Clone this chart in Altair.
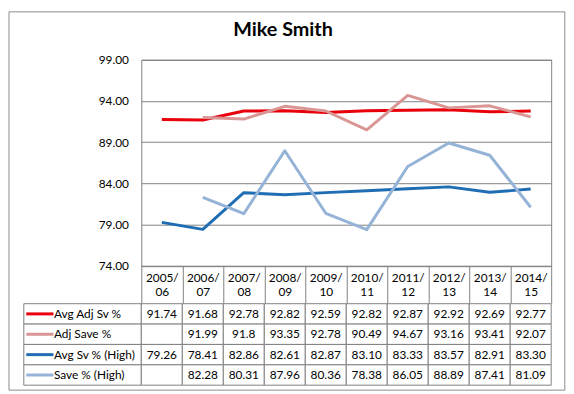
import altair as alt
import pandas as pd

# ---------------- data ----------------
seasons = ["2005/06", "2006/07", "2007/08", "2008/09", "2009/10",
           "2010/11", "2011/12", "2012/13", "2013/14", "2014/15"]
series_names = ["Avg Adj Sv %", "Adj Save %", "Avg Sv % (High)", "Save % (High)"]
avg_adj_sv = [91.74, 91.68, 92.78, 92.82, 92.59, 92.82, 92.87, 92.92, 92.69, 92.77]
adj_save = [None, 91.99, 91.8, 93.35, 92.78, 90.49, 94.67, 93.16, 93.41, 92.07]
avg_sv_high = [79.26, 78.41, 82.86, 82.61, 82.87, 83.10, 83.33, 83.57, 82.91, 83.30]
save_high = [None, 82.28, 80.31, 87.96, 80.36, 78.38, 86.05, 88.89, 87.41, 81.09]
y_ticks = [74, 79, 84, 89, 94, 99]
chart_title = "Mike Smith"
series_values = [avg_adj_sv, adj_save, avg_sv_high, save_high]
series_formats = [".2f", "g", ".2f", "g"]
colors = ["#E8000B", "#D99694", "#1F6DB3", "#95B3D7"]
GRID = "#808080"
FONT = "Lato"

rows = []
for name, vals, fmt in zip(series_names, series_values, series_formats):
    for s, v in zip(seasons, vals):
        rows.append({"season": s, "series": name,
                     "value": v,
                     "text": "" if v is None else format(v, fmt)})
df = pd.DataFrame(rows)
legend_df = pd.DataFrame({"series": series_names, "color": colors})
frame_df = pd.DataFrame({"title": [chart_title]})

band = alt.Scale(type="band", domain=seasons, paddingInner=0, paddingOuter=0)
row_band = alt.Scale(type="band", domain=series_names, paddingInner=0, paddingOuter=0)
color_scale = alt.Scale(domain=series_names, range=colors)

x_axis = alt.Axis(
    title=None, domain=False, grid=False,
    labelExpr="[slice(datum.label, 0, 5), slice(datum.label, 5)]",
    labelFont=FONT, labelFontSize=12, labelColor="black", labelLineHeight=14,
    labelAngle=0, labelOverlap=False, labelBound=False,
    tickBand="extent", tickSize=38, tickColor=GRID, tickWidth=1,
    labelPadding=-31,
)
y_axis = alt.Axis(
    title=None, values=y_ticks, format=".2f", ticks=False, domain=False,
    gridColor=GRID, gridOpacity=1, labelPadding=13,
    labelFont=FONT, labelFontSize=12, labelColor="black",
)

line_x = alt.X("season:N", sort=seasons, scale=band, bandPosition=0.5, axis=x_axis)
line_y = alt.Y("value:Q", scale=alt.Scale(domain=[74, 99], nice=False, zero=False), axis=y_axis)

layers = []
for name in series_names:
    layers.append(
        alt.Chart(df).transform_filter(
            (alt.datum.series == name) & alt.expr.isValid(alt.datum.value)
        ).mark_line(strokeWidth=3, strokeJoin="round").encode(
            x=line_x, y=line_y,
            color=alt.Color("series:N", scale=color_scale, legend=None),
        )
    )

# chart-area border and title (decorations)
frame = alt.Chart(frame_df).mark_rect(fill="transparent", stroke="#8A8A8A", strokeWidth=1).encode(
    x=alt.value(-134), x2=alt.value(428.8), y=alt.value(-48.5), y2=alt.value(334.5)
)
title = alt.Chart(frame_df).mark_text(font=FONT, fontSize=20, fontWeight="bold", color="black",
                                      align="center", baseline="alphabetic").encode(
    x=alt.value(143.5), y=alt.value(-23.7), text="title:N"
)

line_chart = alt.layer(frame, title, *layers).properties(
    width=415, height=208.5,
    view=alt.ViewBackground(stroke=GRID),
)

# ---------------- data table ----------------
tx = alt.X("season:N", sort=seasons, scale=band, axis=None)
ty = alt.Y("series:N", sort=series_names, scale=row_band, axis=None)
tx_c = alt.X("season:N", sort=seasons, scale=band, axis=None, bandPosition=0.5)
ty_c = alt.Y("series:N", sort=series_names, scale=row_band, axis=None, bandPosition=0.5)

cells = alt.Chart(df).mark_rect(fill="white", stroke=GRID, strokeWidth=1).encode(x=tx, y=ty)
vals = alt.Chart(df).mark_text(font=FONT, fontSize=12, color="black", baseline="middle").encode(
    x=tx_c, y=ty_c, text="text:N")
leg_cells = alt.Chart(legend_df).mark_rect(fill="white", stroke=GRID, strokeWidth=1).encode(
    x=alt.value(-119), x2=alt.value(0), y=ty)
swatches = alt.Chart(legend_df).mark_rule(strokeWidth=3).encode(
    x=alt.value(-116.5), x2=alt.value(-89), y=ty_c,
    color=alt.Color("series:N", scale=color_scale, legend=None))
labels = alt.Chart(legend_df).mark_text(font=FONT, fontSize=12, color="black",
                                        align="left", baseline="middle").encode(
    x=alt.value(-88.5), y=ty_c, text="series:N")

table = alt.layer(leg_cells, cells, vals, swatches, labels).properties(
    width=415, height=82.5, view=alt.ViewBackground(stroke=None))

chart = alt.vconcat(line_chart, table, spacing=38, bounds="flush").properties(
    padding=0, background="white"
).configure(font=FONT)

chart.save("out.html", embed_options={"renderer": "svg", "actions": False})
